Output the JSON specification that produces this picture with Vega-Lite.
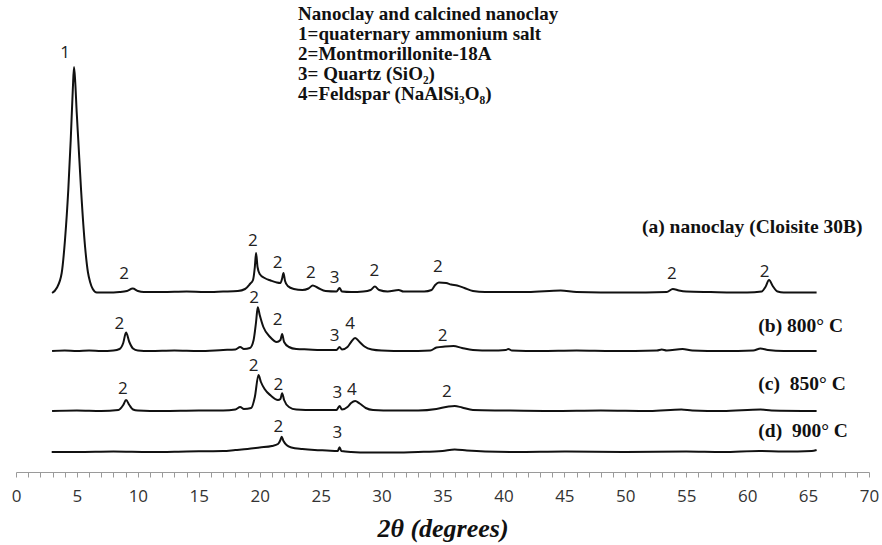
{
  "$schema": "https://vega.github.io/schema/vega-lite/v6.json",
  "width": 853,
  "height": 472,
  "autosize": {"type": "none"},
  "padding": {"left": 16, "top": 0, "right": 13, "bottom": 73},
  "background": "white",
  "config": {"view": {"stroke": null}},
  "resolve": {"axis": {"x": "independent"}},
  "datasets": {
    "traces": [
      {"sample": "a", "two_theta": 2.96, "intensity": 179}, {"sample": "a", "two_theta": 3.34, "intensity": 184},
      {"sample": "a", "two_theta": 3.75, "intensity": 199}, {"sample": "a", "two_theta": 4.02, "intensity": 232},
      {"sample": "a", "two_theta": 4.29, "intensity": 282}, {"sample": "a", "two_theta": 4.49, "intensity": 332},
      {"sample": "a", "two_theta": 4.66, "intensity": 382}, {"sample": "a", "two_theta": 4.76, "intensity": 405},
      {"sample": "a", "two_theta": 4.86, "intensity": 390}, {"sample": "a", "two_theta": 4.98, "intensity": 360},
      {"sample": "a", "two_theta": 5.11, "intensity": 332}, {"sample": "a", "two_theta": 5.34, "intensity": 282},
      {"sample": "a", "two_theta": 5.67, "intensity": 225}, {"sample": "a", "two_theta": 5.9, "intensity": 200},
      {"sample": "a", "two_theta": 6.08, "intensity": 190}, {"sample": "a", "two_theta": 6.3, "intensity": 183},
      {"sample": "a", "two_theta": 6.63, "intensity": 179.5}, {"sample": "a", "two_theta": 7.5, "intensity": 179.5},
      {"sample": "a", "two_theta": 8.5, "intensity": 180}, {"sample": "a", "two_theta": 9.1, "intensity": 181},
      {"sample": "a", "two_theta": 9.58, "intensity": 183.5}, {"sample": "a", "two_theta": 10.0, "intensity": 181},
      {"sample": "a", "two_theta": 10.5, "intensity": 180}, {"sample": "a", "two_theta": 12, "intensity": 180},
      {"sample": "a", "two_theta": 14, "intensity": 180.5}, {"sample": "a", "two_theta": 15.5, "intensity": 180},
      {"sample": "a", "two_theta": 17, "intensity": 180.5}, {"sample": "a", "two_theta": 18.2, "intensity": 181},
      {"sample": "a", "two_theta": 18.8, "intensity": 183}, {"sample": "a", "two_theta": 19.2, "intensity": 188},
      {"sample": "a", "two_theta": 19.45, "intensity": 192}, {"sample": "a", "two_theta": 19.6, "intensity": 205},
      {"sample": "a", "two_theta": 19.7, "intensity": 219}, {"sample": "a", "two_theta": 19.82, "intensity": 205},
      {"sample": "a", "two_theta": 20.0, "intensity": 198}, {"sample": "a", "two_theta": 20.4, "intensity": 194},
      {"sample": "a", "two_theta": 20.9, "intensity": 191.5}, {"sample": "a", "two_theta": 21.4, "intensity": 189.5},
      {"sample": "a", "two_theta": 21.7, "intensity": 189}, {"sample": "a", "two_theta": 21.85, "intensity": 194},
      {"sample": "a", "two_theta": 21.95, "intensity": 199}, {"sample": "a", "two_theta": 22.08, "intensity": 191},
      {"sample": "a", "two_theta": 22.3, "intensity": 186}, {"sample": "a", "two_theta": 22.8, "intensity": 183},
      {"sample": "a", "two_theta": 23.5, "intensity": 182}, {"sample": "a", "two_theta": 24.0, "intensity": 183.5},
      {"sample": "a", "two_theta": 24.35, "intensity": 186.5}, {"sample": "a", "two_theta": 24.8, "intensity": 184},
      {"sample": "a", "two_theta": 25.4, "intensity": 181}, {"sample": "a", "two_theta": 26.3, "intensity": 180.5},
      {"sample": "a", "two_theta": 26.55, "intensity": 184}, {"sample": "a", "two_theta": 26.75, "intensity": 180.5},
      {"sample": "a", "two_theta": 27.5, "intensity": 180}, {"sample": "a", "two_theta": 28.5, "intensity": 180.5},
      {"sample": "a", "two_theta": 29.1, "intensity": 182}, {"sample": "a", "two_theta": 29.45, "intensity": 185.5},
      {"sample": "a", "two_theta": 29.8, "intensity": 182}, {"sample": "a", "two_theta": 30.5, "intensity": 180.5},
      {"sample": "a", "two_theta": 31.4, "intensity": 182}, {"sample": "a", "two_theta": 31.8, "intensity": 180.5},
      {"sample": "a", "two_theta": 33.5, "intensity": 180.5}, {"sample": "a", "two_theta": 34.1, "intensity": 182},
      {"sample": "a", "two_theta": 34.4, "intensity": 187}, {"sample": "a", "two_theta": 34.7, "intensity": 189.5},
      {"sample": "a", "two_theta": 35.3, "intensity": 189}, {"sample": "a", "two_theta": 35.7, "intensity": 187.5},
      {"sample": "a", "two_theta": 36.2, "intensity": 186.5}, {"sample": "a", "two_theta": 36.8, "intensity": 184},
      {"sample": "a", "two_theta": 37.5, "intensity": 181}, {"sample": "a", "two_theta": 38.5, "intensity": 180},
      {"sample": "a", "two_theta": 40, "intensity": 180}, {"sample": "a", "two_theta": 42, "intensity": 180},
      {"sample": "a", "two_theta": 44.7, "intensity": 181.5}, {"sample": "a", "two_theta": 46, "intensity": 180},
      {"sample": "a", "two_theta": 50, "intensity": 179.5}, {"sample": "a", "two_theta": 53.4, "intensity": 180},
      {"sample": "a", "two_theta": 53.9, "intensity": 183}, {"sample": "a", "two_theta": 54.4, "intensity": 181.5},
      {"sample": "a", "two_theta": 55, "intensity": 180.5}, {"sample": "a", "two_theta": 57, "intensity": 180},
      {"sample": "a", "two_theta": 60, "intensity": 179.5}, {"sample": "a", "two_theta": 61.2, "intensity": 180.5},
      {"sample": "a", "two_theta": 61.5, "intensity": 185}, {"sample": "a", "two_theta": 61.8, "intensity": 192},
      {"sample": "a", "two_theta": 62.1, "intensity": 186}, {"sample": "a", "two_theta": 62.5, "intensity": 180.5},
      {"sample": "a", "two_theta": 63, "intensity": 179.5}, {"sample": "a", "two_theta": 65.7, "intensity": 179.5},

      {"sample": "b", "two_theta": 2.96, "intensity": 121}, {"sample": "b", "two_theta": 4, "intensity": 121.5},
      {"sample": "b", "two_theta": 5, "intensity": 121}, {"sample": "b", "two_theta": 6, "intensity": 121.5},
      {"sample": "b", "two_theta": 7, "intensity": 121}, {"sample": "b", "two_theta": 8, "intensity": 121.5},
      {"sample": "b", "two_theta": 8.5, "intensity": 123}, {"sample": "b", "two_theta": 8.8, "intensity": 129},
      {"sample": "b", "two_theta": 9.03, "intensity": 139.5}, {"sample": "b", "two_theta": 9.3, "intensity": 130},
      {"sample": "b", "two_theta": 9.6, "intensity": 123.5}, {"sample": "b", "two_theta": 10, "intensity": 121.5},
      {"sample": "b", "two_theta": 11, "intensity": 121}, {"sample": "b", "two_theta": 13, "intensity": 121.5},
      {"sample": "b", "two_theta": 15, "intensity": 121}, {"sample": "b", "two_theta": 17, "intensity": 122},
      {"sample": "b", "two_theta": 18.0, "intensity": 122.5}, {"sample": "b", "two_theta": 18.4, "intensity": 125},
      {"sample": "b", "two_theta": 18.7, "intensity": 123}, {"sample": "b", "two_theta": 19.2, "intensity": 124},
      {"sample": "b", "two_theta": 19.5, "intensity": 132}, {"sample": "b", "two_theta": 19.7, "intensity": 150},
      {"sample": "b", "two_theta": 19.84, "intensity": 164.7}, {"sample": "b", "two_theta": 20.0, "intensity": 157},
      {"sample": "b", "two_theta": 20.3, "intensity": 145}, {"sample": "b", "two_theta": 20.85, "intensity": 135},
      {"sample": "b", "two_theta": 21.4, "intensity": 130}, {"sample": "b", "two_theta": 21.7, "intensity": 132},
      {"sample": "b", "two_theta": 21.84, "intensity": 138}, {"sample": "b", "two_theta": 22.0, "intensity": 130},
      {"sample": "b", "two_theta": 22.4, "intensity": 125}, {"sample": "b", "two_theta": 23, "intensity": 123},
      {"sample": "b", "two_theta": 24, "intensity": 122.5}, {"sample": "b", "two_theta": 25, "intensity": 122},
      {"sample": "b", "two_theta": 26.3, "intensity": 122}, {"sample": "b", "two_theta": 26.55, "intensity": 125},
      {"sample": "b", "two_theta": 26.75, "intensity": 122.5}, {"sample": "b", "two_theta": 27.2, "intensity": 125},
      {"sample": "b", "two_theta": 27.5, "intensity": 130}, {"sample": "b", "two_theta": 27.83, "intensity": 134},
      {"sample": "b", "two_theta": 28.2, "intensity": 130}, {"sample": "b", "two_theta": 28.6, "intensity": 125.5},
      {"sample": "b", "two_theta": 29.2, "intensity": 122.5}, {"sample": "b", "two_theta": 30, "intensity": 121.5},
      {"sample": "b", "two_theta": 32, "intensity": 121}, {"sample": "b", "two_theta": 34, "intensity": 121.5},
      {"sample": "b", "two_theta": 34.5, "intensity": 124.5}, {"sample": "b", "two_theta": 35.2, "intensity": 125.5},
      {"sample": "b", "two_theta": 35.9, "intensity": 126}, {"sample": "b", "two_theta": 36.6, "intensity": 124},
      {"sample": "b", "two_theta": 37.5, "intensity": 122}, {"sample": "b", "two_theta": 39, "intensity": 121.5},
      {"sample": "b", "two_theta": 40.2, "intensity": 122}, {"sample": "b", "two_theta": 40.4, "intensity": 123},
      {"sample": "b", "two_theta": 40.7, "intensity": 121.5}, {"sample": "b", "two_theta": 43, "intensity": 121},
      {"sample": "b", "two_theta": 46, "intensity": 121.5}, {"sample": "b", "two_theta": 49, "intensity": 121},
      {"sample": "b", "two_theta": 52.6, "intensity": 121.5}, {"sample": "b", "two_theta": 53, "intensity": 122.5},
      {"sample": "b", "two_theta": 53.4, "intensity": 121.5}, {"sample": "b", "two_theta": 54.7, "intensity": 123},
      {"sample": "b", "two_theta": 55.5, "intensity": 121.5}, {"sample": "b", "two_theta": 58, "intensity": 121},
      {"sample": "b", "two_theta": 60.5, "intensity": 121.5}, {"sample": "b", "two_theta": 61.1, "intensity": 123.5},
      {"sample": "b", "two_theta": 61.7, "intensity": 122}, {"sample": "b", "two_theta": 63, "intensity": 121},
      {"sample": "b", "two_theta": 65.7, "intensity": 121},

      {"sample": "c", "two_theta": 2.96, "intensity": 61}, {"sample": "c", "two_theta": 5, "intensity": 61.5},
      {"sample": "c", "two_theta": 7, "intensity": 61}, {"sample": "c", "two_theta": 8.4, "intensity": 62},
      {"sample": "c", "two_theta": 8.8, "intensity": 67}, {"sample": "c", "two_theta": 9.03, "intensity": 72},
      {"sample": "c", "two_theta": 9.3, "intensity": 67}, {"sample": "c", "two_theta": 9.6, "intensity": 62.5},
      {"sample": "c", "two_theta": 10, "intensity": 61.5}, {"sample": "c", "two_theta": 12, "intensity": 61},
      {"sample": "c", "two_theta": 15, "intensity": 61.5}, {"sample": "c", "two_theta": 17, "intensity": 61.5},
      {"sample": "c", "two_theta": 18.0, "intensity": 62.5}, {"sample": "c", "two_theta": 18.4, "intensity": 65},
      {"sample": "c", "two_theta": 18.7, "intensity": 63}, {"sample": "c", "two_theta": 19.3, "intensity": 64},
      {"sample": "c", "two_theta": 19.6, "intensity": 75}, {"sample": "c", "two_theta": 19.9, "intensity": 97},
      {"sample": "c", "two_theta": 20.1, "intensity": 90}, {"sample": "c", "two_theta": 20.4, "intensity": 83},
      {"sample": "c", "two_theta": 20.9, "intensity": 76.5}, {"sample": "c", "two_theta": 21.5, "intensity": 72},
      {"sample": "c", "two_theta": 21.7, "intensity": 73}, {"sample": "c", "two_theta": 21.84, "intensity": 78.7},
      {"sample": "c", "two_theta": 22.0, "intensity": 72}, {"sample": "c", "two_theta": 22.4, "intensity": 65},
      {"sample": "c", "two_theta": 23, "intensity": 62.5}, {"sample": "c", "two_theta": 24.5, "intensity": 62},
      {"sample": "c", "two_theta": 26.3, "intensity": 62}, {"sample": "c", "two_theta": 26.55, "intensity": 66},
      {"sample": "c", "two_theta": 26.75, "intensity": 62.5}, {"sample": "c", "two_theta": 27.2, "intensity": 65},
      {"sample": "c", "two_theta": 27.5, "intensity": 69}, {"sample": "c", "two_theta": 27.83, "intensity": 71},
      {"sample": "c", "two_theta": 28.2, "intensity": 68.5}, {"sample": "c", "two_theta": 28.7, "intensity": 64},
      {"sample": "c", "two_theta": 29.3, "intensity": 62}, {"sample": "c", "two_theta": 31, "intensity": 61.5},
      {"sample": "c", "two_theta": 33, "intensity": 61.5}, {"sample": "c", "two_theta": 34.5, "intensity": 63},
      {"sample": "c", "two_theta": 35.5, "intensity": 65.5}, {"sample": "c", "two_theta": 36, "intensity": 66},
      {"sample": "c", "two_theta": 36.6, "intensity": 64.5}, {"sample": "c", "two_theta": 37.5, "intensity": 62},
      {"sample": "c", "two_theta": 40, "intensity": 61.5}, {"sample": "c", "two_theta": 44, "intensity": 61},
      {"sample": "c", "two_theta": 48, "intensity": 61.5}, {"sample": "c", "two_theta": 52, "intensity": 61},
      {"sample": "c", "two_theta": 54.6, "intensity": 62.5}, {"sample": "c", "two_theta": 55.5, "intensity": 61.5},
      {"sample": "c", "two_theta": 58, "intensity": 61}, {"sample": "c", "two_theta": 61.1, "intensity": 62.5},
      {"sample": "c", "two_theta": 62, "intensity": 61.5}, {"sample": "c", "two_theta": 65.7, "intensity": 61},

      {"sample": "d", "two_theta": 2.93, "intensity": 20}, {"sample": "d", "two_theta": 5, "intensity": 20},
      {"sample": "d", "two_theta": 8, "intensity": 20.5}, {"sample": "d", "two_theta": 11, "intensity": 20},
      {"sample": "d", "two_theta": 14, "intensity": 20.5}, {"sample": "d", "two_theta": 17, "intensity": 21},
      {"sample": "d", "two_theta": 18, "intensity": 22}, {"sample": "d", "two_theta": 19, "intensity": 23},
      {"sample": "d", "two_theta": 20, "intensity": 24.5}, {"sample": "d", "two_theta": 21, "intensity": 26},
      {"sample": "d", "two_theta": 21.5, "intensity": 28}, {"sample": "d", "two_theta": 21.7, "intensity": 32},
      {"sample": "d", "two_theta": 21.8, "intensity": 35.3}, {"sample": "d", "two_theta": 21.95, "intensity": 31},
      {"sample": "d", "two_theta": 22.2, "intensity": 27}, {"sample": "d", "two_theta": 22.6, "intensity": 24.5},
      {"sample": "d", "two_theta": 23.5, "intensity": 23}, {"sample": "d", "two_theta": 24.5, "intensity": 22},
      {"sample": "d", "two_theta": 25.5, "intensity": 21.5}, {"sample": "d", "two_theta": 26.4, "intensity": 21},
      {"sample": "d", "two_theta": 26.55, "intensity": 24.7}, {"sample": "d", "two_theta": 26.7, "intensity": 21},
      {"sample": "d", "two_theta": 27.5, "intensity": 20}, {"sample": "d", "two_theta": 29, "intensity": 19.5},
      {"sample": "d", "two_theta": 31, "intensity": 19.5}, {"sample": "d", "two_theta": 33, "intensity": 20},
      {"sample": "d", "two_theta": 35, "intensity": 21}, {"sample": "d", "two_theta": 36, "intensity": 22.5},
      {"sample": "d", "two_theta": 37, "intensity": 21.5}, {"sample": "d", "two_theta": 38.5, "intensity": 20.5},
      {"sample": "d", "two_theta": 41, "intensity": 20}, {"sample": "d", "two_theta": 45, "intensity": 20.5},
      {"sample": "d", "two_theta": 50, "intensity": 20}, {"sample": "d", "two_theta": 55, "intensity": 20.5},
      {"sample": "d", "two_theta": 58, "intensity": 20}, {"sample": "d", "two_theta": 61, "intensity": 21},
      {"sample": "d", "two_theta": 63, "intensity": 20.5}, {"sample": "d", "two_theta": 65.3, "intensity": 21},
      {"sample": "d", "two_theta": 65.7, "intensity": 22}
    ],
    "peaks": [
      {"sample": "a", "two_theta": 4.02, "intensity": 418.7, "phase": "1"},
      {"sample": "a", "two_theta": 8.87, "intensity": 198, "phase": "2"},
      {"sample": "a", "two_theta": 19.43, "intensity": 231, "phase": "2"},
      {"sample": "a", "two_theta": 21.46, "intensity": 208.7, "phase": "2"},
      {"sample": "a", "two_theta": 24.2, "intensity": 199.3, "phase": "2"},
      {"sample": "a", "two_theta": 26.14, "intensity": 194.3, "phase": "3"},
      {"sample": "a", "two_theta": 29.4, "intensity": 201, "phase": "2"},
      {"sample": "a", "two_theta": 34.62, "intensity": 204.7, "phase": "2"},
      {"sample": "a", "two_theta": 53.83, "intensity": 197.7, "phase": "2"},
      {"sample": "a", "two_theta": 61.44, "intensity": 200.3, "phase": "2"},
      {"sample": "b", "two_theta": 8.48, "intensity": 147.7, "phase": "2"},
      {"sample": "b", "two_theta": 19.54, "intensity": 173.7, "phase": "2"},
      {"sample": "b", "two_theta": 21.46, "intensity": 152, "phase": "2"},
      {"sample": "b", "two_theta": 26.14, "intensity": 136, "phase": "3"},
      {"sample": "b", "two_theta": 27.42, "intensity": 147.7, "phase": "4"},
      {"sample": "b", "two_theta": 35.0, "intensity": 136, "phase": "2"},
      {"sample": "c", "two_theta": 8.76, "intensity": 82.7, "phase": "2"},
      {"sample": "c", "two_theta": 19.49, "intensity": 106, "phase": "2"},
      {"sample": "c", "two_theta": 21.54, "intensity": 87, "phase": "2"},
      {"sample": "c", "two_theta": 26.38, "intensity": 78.7, "phase": "3"},
      {"sample": "c", "two_theta": 27.56, "intensity": 82, "phase": "4"},
      {"sample": "c", "two_theta": 35.36, "intensity": 80.3, "phase": "2"},
      {"sample": "d", "two_theta": 21.54, "intensity": 45.3, "phase": "2"},
      {"sample": "d", "two_theta": 26.38, "intensity": 38.7, "phase": "3"}
    ],
    "samples": [
      {"two_theta": 51.37, "intensity": 245.3, "name": "(a) nanoclay (Cloisite 30B)"},
      {"two_theta": 60.92, "intensity": 146, "name": "(b) 800° C"},
      {"two_theta": 60.92, "intensity": 88, "name": "(c)\u00a0 850° C"},
      {"two_theta": 60.92, "intensity": 41.3, "name": "(d)\u00a0 900° C"}
    ]
  },
  "layer": [
    {
      "data": {"name": "traces"},
      "mark": {"type": "line", "color": "#111111", "strokeWidth": 2, "interpolate": "monotone"},
      "encoding": {
        "x": {
          "field": "two_theta", "type": "quantitative",
          "scale": {"domain": [0, 70], "nice": false},
          "axis": {
            "orient": "bottom",
            "values": [0, 5, 10, 15, 20, 25, 30, 35, 40, 45, 50, 55, 60, 65, 70],
            "format": "d",
            "grid": false,
            "domainColor": "#9a9a9a",
            "tickColor": "#9a9a9a",
            "tickSize": 5,
            "labelFont": "Open Sans",
            "labelFontSize": 17,
            "labelColor": "#333333",
            "labelPadding": 11,
            "labelOverlap": false,
            "labelFlush": false,
            "title": "2θ (degrees)",
            "titleFont": "Liberation Serif",
            "titleFontStyle": "italic",
            "titleFontWeight": "bold",
            "titleFontSize": 26,
            "titleColor": "#111111",
            "titlePadding": 11
          }
        },
        "y": {
          "field": "intensity", "type": "quantitative",
          "scale": {"domain": [0, 472], "nice": false},
          "axis": null
        },
        "detail": {"field": "sample"}
      }
    },
    {
      "data": {"name": "peaks"},
      "mark": {"type": "text", "font": "Open Sans", "fontSize": 17, "color": "#222222"},
      "encoding": {
        "x": {
          "field": "two_theta", "type": "quantitative",
          "axis": {
            "orient": "bottom",
            "values": [1,2,3,4,6,7,8,9,11,12,13,14,16,17,18,19,21,22,23,24,26,27,28,29,31,32,33,34,36,37,38,39,41,42,43,44,46,47,48,49,51,52,53,54,56,57,58,59,61,62,63,64,66,67,68,69],
            "labels": false,
            "domain": false,
            "grid": false,
            "title": null,
            "tickColor": "#9a9a9a",
            "tickSize": 5
          }
        },
        "y": {"field": "intensity", "type": "quantitative", "axis": null},
        "text": {"field": "phase"}
      }
    },
    {
      "data": {"name": "samples"},
      "mark": {"type": "text", "align": "left", "font": "Liberation Serif", "fontWeight": "bold", "fontSize": 19.5, "color": "#111111"},
      "encoding": {
        "x": {"field": "two_theta", "type": "quantitative", "axis": null},
        "y": {"field": "intensity", "type": "quantitative", "axis": null},
        "text": {"field": "name"}
      }
    },
    {
      "data": {"values": [{}]},
      "mark": {
        "type": "text", "align": "left", "baseline": "top",
        "font": "Liberation Serif", "fontWeight": "bold", "fontSize": 19, "lineHeight": 20, "color": "#111111",
        "text": [
          "Nanoclay and calcined nanoclay",
          "1=quaternary ammonium salt",
          "2=Montmorillonite-18A",
          "3= Quartz (SiO₂)",
          "4=Feldspar (NaAlSi₃O₈)"
        ]
      },
      "encoding": {
        "x": {"datum": 23.15, "type": "quantitative", "axis": null},
        "y": {"datum": 467, "type": "quantitative", "axis": null}
      }
    }
  ]
}
